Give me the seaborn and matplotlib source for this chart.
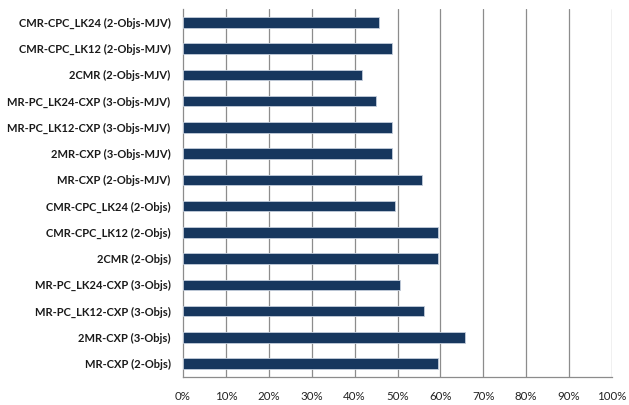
import matplotlib
matplotlib.use("Agg")
import matplotlib.pyplot as plt
from matplotlib.ticker import FixedLocator, PercentFormatter
import seaborn as sns
import pandas as pd

# Configuration labels, listed top to bottom
configs = [
    "CMR-CPC_LK24 (2-Objs-MJV)",
    "CMR-CPC_LK12 (2-Objs-MJV)",
    "2CMR (2-Objs-MJV)",
    "MR-PC_LK24-CXP (3-Objs-MJV)",
    "MR-PC_LK12-CXP (3-Objs-MJV)",
    "2MR-CXP (3-Objs-MJV)",
    "MR-CXP (2-Objs-MJV)",
    "CMR-CPC_LK24 (2-Objs)",
    "CMR-CPC_LK12 (2-Objs)",
    "2CMR (2-Objs)",
    "MR-PC_LK24-CXP (3-Objs)",
    "MR-PC_LK12-CXP (3-Objs)",
    "2MR-CXP (3-Objs)",
    "MR-CXP (2-Objs)",
]
# Share per configuration, in percent
shares = [45.6, 48.8, 41.8, 45.0, 48.8, 48.8, 55.8,
          49.5, 59.4, 59.4, 50.5, 56.2, 65.7, 59.4]
x_ticks = list(range(0, 101, 10))

df = pd.DataFrame({"config": configs, "share": shares})

sns.set_theme(style="white")
plt.rcParams["font.family"] = ["Lato", "DejaVu Sans"]

fig = plt.figure(figsize=(6.29, 4.05), dpi=100)
ax = fig.add_axes([0.291, 0.070, 0.682, 0.907])

sns.barplot(data=df, x="share", y="config", order=configs, orient="h",
            color="#17375E", saturation=1, width=0.4,
            edgecolor="#c3cddb", linewidth=0.6, ax=ax, zorder=3)

grid_col = "#8c8c8c"
ax.set_xlim(0, 100)
ax.set_ylim(len(configs) - 0.5, -0.5)
ax.xaxis.set_major_locator(FixedLocator(x_ticks))
ax.xaxis.set_major_formatter(PercentFormatter(decimals=0))
for t in x_ticks[1:]:
    ax.axvline(t, color=grid_col, lw=0.9, zorder=1)

ax.set_xlabel("")
ax.set_ylabel("")
for side in ("top", "right"):
    ax.spines[side].set_visible(False)
for side in ("left", "bottom"):
    ax.spines[side].set_color(grid_col)
    ax.spines[side].set_linewidth(0.9)

ax.tick_params(axis="x", direction="out", length=3, width=0.9, color=grid_col,
               labelsize=8.3, labelcolor="#222222", pad=7)
ax.tick_params(axis="y", which="major", length=0, labelsize=8.0, pad=9)
ax.yaxis.set_minor_locator(FixedLocator([i - 0.5 for i in range(len(configs) + 1)]))
ax.tick_params(axis="y", which="minor", direction="out", length=3, width=0.9,
               color=grid_col)
for lbl in ax.get_yticklabels():
    lbl.set_fontweight("bold")
    lbl.set_color("#1a1a1a")

fig.savefig("out.png", dpi=100)
